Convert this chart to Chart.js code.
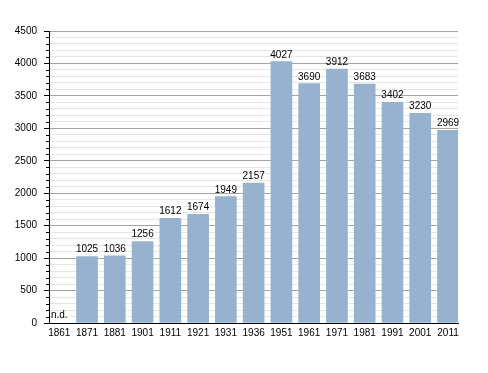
<!DOCTYPE html>
<html>
<head>
<meta charset="utf-8">
<script src="https://cdn.jsdelivr.net/npm/chart.js@4/dist/chart.umd.min.js"></script>
<style>
  html, body { margin: 0; padding: 0; background: #fff; }
  #wrap { width: 488px; height: 373px; }
</style>
</head>
<body>
<div id="wrap"><canvas id="popChart" width="488" height="373"></canvas></div>
<script>
// census years and population (1861 = no data)
const years = ['1861', '1871', '1881', '1901', '1911', '1921', '1931', '1936', '1951', '1961', '1971', '1981', '1991', '2001', '2011'];
const population = [null, 1025, 1036, 1256, 1612, 1674, 1949, 2157, 4027, 3690, 3912, 3683, 3402, 3230, 2969];
const yMax = 4500;
const yMajorStep = 500;
const yMinorStep = 100;

const FONT = '"Liberation Sans", Arial, sans-serif';
const isMajor = v => v % yMajorStep === 0;

// numbers above the bars, "n.d." where nothing was recorded
const valueLabels = {
    id: 'valueLabels',
    afterDatasetsDraw(chart) {
        const { ctx, scales: { x, y } } = chart;
        ctx.save();
        ctx.font = '10px ' + FONT;
        ctx.fillStyle = '#000';
        ctx.textAlign = 'center';
        ctx.textBaseline = 'alphabetic';
        population.forEach((v, i) => {
            const px = x.getPixelForValue(i);
            if (v === null) {
                ctx.fillText('n.d.', px, y.getPixelForValue(0) - 5);
            } else {
                ctx.fillText(String(v), px, y.getPixelForValue(v) - 4);
            }
        });
        ctx.restore();
    }
};

// shorter tick marks for the minor (100) steps
const minorTicks = {
    id: 'minorTicks',
    afterDraw(chart) {
        const { ctx, scales: { y } } = chart;
        ctx.save();
        ctx.strokeStyle = '#000';
        ctx.lineWidth = 1;
        ctx.beginPath();
        y.ticks.forEach(t => {
            if (isMajor(t.value)) return;
            const py = Math.round(y.getPixelForValue(t.value)) + 0.5;
            ctx.moveTo(y.right - 3, py);
            ctx.lineTo(y.right, py);
        });
        ctx.stroke();
        ctx.restore();
    }
};

new Chart(document.getElementById('popChart'), {
    type: 'bar',
    data: {
        datasets: [{
            data: population.map((v, i) => ({ x: i, y: v })),
            backgroundColor: 'rgb(151,178,207)',
            borderWidth: 0,
            barThickness: 21
        }]
    },
    options: {
        responsive: false,
        animation: false,
        devicePixelRatio: 1,
        layout: { padding: { top: 31, right: 30, bottom: 20, left: 0 } },
        plugins: { legend: { display: false }, tooltip: { enabled: false } },
        scales: {
            x: {
                type: 'linear',
                offset: false,
                min: -0.37,
                max: 14.36,
                afterBuildTicks: scale => { scale.ticks = years.map((_, i) => ({ value: i })); },
                afterFit: scale => { scale.height = 30; },
                grid: { display: false, drawTicks: false },
                border: { display: true, color: '#000', width: 1 },
                ticks: {
                    autoSkip: false,
                    maxRotation: 0,
                    padding: 4,
                    color: '#000',
                    font: { family: FONT, size: 10 },
                    callback: v => years[Math.round(v)]
                }
            },
            y: {
                min: 0,
                max: yMax,
                afterFit: scale => { scale.width = 49; },
                grid: {
                    color: c => (c.tick && isMajor(c.tick.value)) ? '#a4a4a4' : '#e6e6e6',
                    tickColor: c => (c.tick && isMajor(c.tick.value)) ? '#000' : 'rgba(0,0,0,0)',
                    tickLength: 5
                },
                border: { display: true, color: '#000', width: 1 },
                ticks: {
                    stepSize: yMinorStep,
                    autoSkip: false,
                    padding: 7,
                    color: '#000',
                    font: { family: FONT, size: 10 },
                    callback: v => (isMajor(v) ? String(v) : '')
                }
            }
        }
    },
    plugins: [valueLabels, minorTicks]
});
</script>
</body>
</html>
